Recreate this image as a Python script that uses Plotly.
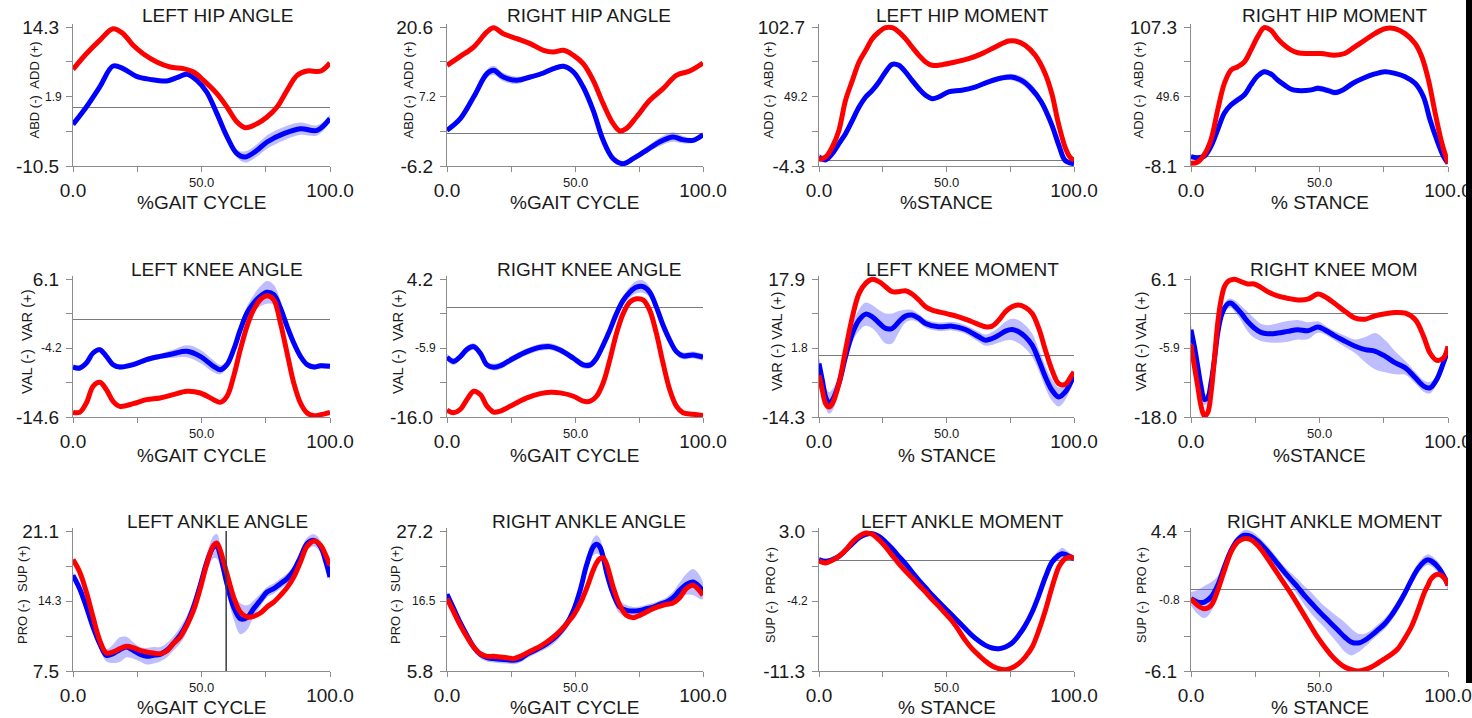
import plotly.graph_objects as go

W, H = 1472, 718

# ---------------- DATA ----------------
# 1 LEFT HIP ANGLE
LHA_x_red = [0, 5.2, 10.4, 15.6, 19.5, 23.4, 27.3, 32.6, 37.8, 43, 46.9, 50.8, 56, 59.9, 63.8, 67, 71.6, 75.5, 79.4, 83.3, 87.2, 91.1, 96.4, 100]
LHA_red = [6.75, 9.54, 11.92, 14.0, 13.11, 11.03, 9.54, 8.06, 7.16, 6.87, 6.27, 4.78, 2.41, 0.03, -2.65, -3.66, -2.95, -1.76, 0.03, 3.0, 5.68, 6.45, 6.45, 7.88]
LHA_x_blue = [0, 5.2, 10.4, 15.6, 19.5, 24.7, 30, 36.5, 40.4, 44.3, 48.2, 52, 56, 60, 63.8, 67, 71.6, 75.5, 82, 88.5, 95, 100]
LHA_blue = [-3.07, 0.03, 3.6, 7.34, 6.87, 5.5, 4.96, 4.67, 5.26, 5.86, 4.78, 2.7, -1.16, -5.33, -8.3, -8.89, -7.7, -6.22, -4.73, -3.84, -4.14, -2.05]
LHA_sd = [0.3, 0.3, 0.3, 0.3, 0.3, 0.3, 0.3, 0.3, 0.3, 0.3, 0.3, 0.3, 0.4, 0.5, 0.7, 1.0, 1.1, 1.2, 1.2, 1.1, 0.9, 0.7]
LHA_yticks = ["-10.5", "1.9", "14.3"]

# 2 RIGHT HIP ANGLE
RHA_x_red = [0, 5.2, 10.4, 15.6, 18.2, 22, 27.3, 32.5, 37.7, 41.6, 45.5, 49.4, 53.2, 57.1, 61, 64.9, 67.5, 70, 74, 79.2, 84.4, 89.6, 94.8, 100]
RHA_red = [13.21, 14.94, 16.74, 19.64, 20.47, 19.31, 18.35, 17.39, 16.1, 15.78, 16.1, 15.14, 13.53, 10.32, 5.82, 1.96, 0.55, 1.0, 3.25, 6.46, 8.71, 11.28, 12.12, 13.66]
RHA_x_blue = [0, 5.2, 10.4, 15.6, 18.2, 22, 27.3, 32.5, 37.7, 41.6, 45.5, 49.4, 53.2, 57.1, 61, 64.9, 68.8, 72.7, 77.9, 83, 88.3, 92, 96.1, 100]
RHA_blue = [0.68, 2.93, 7.1, 11.6, 12.25, 10.96, 10.32, 10.96, 11.73, 12.57, 13.02, 11.92, 9.03, 4.53, -1.25, -4.79, -5.75, -4.79, -3.18, -1.57, -0.61, -1.12, -1.25, -0.16]
RHA_sd = [0.4, 0.5, 0.6, 0.8, 0.9, 0.8, 0.7, 0.5, 0.5, 0.5, 0.5, 0.5, 0.5, 0.5, 0.5, 0.5, 0.5, 0.5, 0.6, 0.8, 0.9, 0.7, 0.5, 0.5]
RHA_yticks = ["-6.2", "7.2", "20.6"]

# 3 LEFT HIP MOMENT
LHM_x_red = [0, 2.6, 5.2, 7.8, 10.4, 13.1, 15.7, 18.3, 20.9, 23.5, 26.1, 28.7, 31.3, 33.9, 36.5, 39.2, 41.8, 44.4, 48.3, 53.5, 58.7, 63.9, 69.1, 74.3, 77, 80.9, 84.8, 88.7, 91.3, 93.9, 96.5, 98.4, 100]
LHM_red = [0.57, 2.6, 10.3, 23.1, 46.2, 61.6, 75.8, 84.7, 93.7, 98.9, 102.2, 102.2, 98.9, 93.7, 87.3, 80.9, 75.8, 73.2, 73.7, 75.8, 78.3, 82.2, 87.3, 91.9, 91.9, 88.6, 80.9, 66.8, 51.4, 28.3, 10.3, 2.6, 0.06]
LHM_x_blue = [0, 2.6, 5.2, 7.8, 10.4, 13.1, 15.7, 18.3, 20.9, 23.5, 26.1, 28.7, 31.3, 33.9, 36.5, 39.2, 41.8, 44.4, 46.9, 50.8, 56, 61.2, 66.4, 71.5, 75.4, 79.4, 83.3, 87.2, 91.1, 94.3, 96.5, 100]
LHM_blue = [2.6, 0.57, 5.2, 12.9, 20.6, 30.9, 41.1, 48.8, 53.9, 60.4, 68.1, 74, 73.2, 68.1, 61.6, 55.2, 50.1, 47.5, 48.8, 52.7, 54, 56.5, 60.4, 63.4, 64.2, 61.6, 55.2, 45, 28.3, 10.3, 0.06, -2.5]
LHM_sd = [2.5, 2.5, 2, 1.5, 1.5, 1.5, 1.5, 1.5, 1.5, 1.5, 1.5, 1.5, 1.5, 1.5, 1.5, 1.5, 1.5, 1.5, 1.5, 1.5, 1.5, 1.5, 1.5, 2, 2.5, 3, 3.5, 3, 2.5, 2, 1.5, 1.5]
LHM_yticks = ["-4.3", "49.2", "102.7"]

# 4 RIGHT HIP MOMENT
RHM_x_red = [0, 2.6, 5.2, 7.8, 10.4, 13, 15.6, 18.2, 20.8, 23.3, 25.9, 28.5, 31.1, 33.7, 36.3, 39, 41.6, 45.5, 50.7, 55.8, 59.8, 63.7, 67.6, 71.5, 75.4, 79.4, 83.3, 87.2, 89.8, 92.4, 95, 97.6, 100]
RHM_red = [-5.9, -4.8, 1.5, 13.9, 38.6, 60.6, 71.6, 74.3, 78.4, 88.1, 99.1, 106.8, 104.6, 97.7, 92.2, 88.1, 85.9, 85.3, 85.3, 83.9, 85.3, 90.8, 96.3, 101.8, 105.9, 105.9, 101.8, 93.6, 82.6, 63.3, 35.9, 11.1, -5.9]
RHM_x_blue = [0, 2.6, 5.2, 7.8, 10.4, 13, 15.6, 18.2, 20.8, 23.3, 25.9, 28.5, 31.1, 33.7, 36.3, 39, 41.6, 46.8, 49.4, 53.4, 56, 59.1, 63, 67, 71.5, 75.4, 79.4, 83.3, 87.2, 90.4, 93, 95.6, 98.2, 100]
RHM_blue = [-0.4, -1.2, 0.1, 8.4, 22.1, 35.9, 42.7, 46.8, 51, 59.2, 66.6, 70.2, 68.3, 63.3, 59.2, 55.6, 54.5, 55.1, 56.5, 54.5, 52.9, 55.1, 60.6, 64.7, 68.3, 70.2, 68.8, 66.1, 60.6, 49.6, 30.3, 13.9, 0.1, -5.9]
RHM_sd = [1.5, 1.5, 1.5, 2, 2.5, 3, 3, 3, 2.5, 2, 2.5, 2.5, 2, 1.5, 1.5, 1.5, 1.5, 2, 2.5, 2.5, 2.5, 1.5, 1.5, 1.5, 1.5, 1.5, 1.5, 1.5, 1.5, 1.5, 1.5, 1.5, 1.5, 1.5]
RHM_yticks = ["-8.1", "49.6", "107.3"]

# 5 LEFT KNEE ANGLE
LKA_x = [0, 2.6, 5.2, 7.8, 10.4, 13, 15.6, 18.2, 23.4, 28.6, 33.9, 39, 44.3, 49.5, 54.7, 57.3, 59.9, 62.5, 65.1, 67.7, 70.3, 72.9, 75.5, 78.1, 80.7, 83.3, 85.9, 88.5, 91.1, 93.8, 96.4, 100]
LKA_red = [-13.9, -13.9, -12.5, -10.0, -9.4, -10.5, -12.25, -13.0, -12.6, -12.0, -11.75, -11.25, -10.75, -11.0, -12.0, -12.4, -11.5, -8.5, -4.5, -1.0, 1.5, 3.0, 3.6, 3.0, -0.5, -5.0, -9.5, -12.5, -14.0, -14.4, -14.25, -13.9]
LKA_blue = [-7.1, -7.25, -6.5, -5.0, -4.5, -5.5, -6.75, -7.1, -6.75, -6.0, -5.5, -5.1, -4.75, -5.5, -7.0, -7.5, -6.75, -4.5, -1.5, 1.0, 2.5, 3.5, 4.1, 3.75, 1.75, -1.0, -3.5, -5.5, -6.75, -7.1, -6.9, -7.0]
LKA_sd = [0.4, 0.4, 0.4, 0.4, 0.4, 0.4, 0.4, 0.4, 0.4, 0.4, 0.4, 0.6, 0.9, 1.0, 0.9, 0.7, 0.5, 0.6, 0.8, 1.0, 1.2, 1.5, 1.7, 1.5, 1.2, 0.9, 0.7, 0.5, 0.4, 0.4, 0.4, 0.4]
LKA_yticks = ["-14.6", "-4.2", "6.1"]

# 6 RIGHT KNEE ANGLE
RKA_x = [0, 2.6, 5.2, 7.8, 10.4, 13, 15.6, 18.2, 20.8, 26, 31.2, 36.4, 40.3, 44.2, 49.4, 53.2, 56, 58.4, 61, 63.6, 66.2, 68.8, 71.4, 74, 76.6, 79.2, 81.8, 84.4, 87, 89.6, 92.2, 96.1, 100]
RKA_red = [-14.99, -15.37, -14.89, -13.44, -12.23, -12.7, -14.4, -15.28, -15.13, -14.16, -13.2, -12.57, -12.38, -12.47, -12.96, -13.68, -13.68, -12.96, -11.02, -7.64, -3.77, -0.87, 0.82, 1.3, 1.15, -0.39, -3.77, -8.12, -11.99, -14.4, -15.37, -15.6, -15.8]
RKA_blue = [-7.25, -7.88, -7.16, -6.1, -5.7, -6.67, -8.37, -8.7, -8.5, -7.4, -6.43, -5.8, -5.7, -6.2, -7.4, -8.37, -8.37, -7.4, -5.47, -3.29, -0.87, 1.06, 2.27, 3.0, 3.09, 2.27, 0.09, -2.57, -4.74, -6.43, -7.06, -6.92, -7.25]
RKA_sd = [0.5] * 20 + [0.6, 0.7, 0.8, 0.9, 0.9, 0.8, 0.6, 0.5, 0.5, 0.5, 0.5, 0.5, 0.5]
RKA_yticks = ["-16.0", "-5.9", "4.2"]

# 7 LEFT KNEE MOMENT
LKM_x_red = [0, 1.3, 2.6, 3.9, 5.2, 7.8, 10.4, 13.1, 15.7, 18.3, 20.9, 23.5, 26.1, 28.7, 31.3, 33.9, 36.5, 39.2, 41.8, 44.4, 49.6, 54.8, 60, 65.3, 67.9, 70.5, 73.1, 75.7, 78.3, 80.9, 83.6, 86.2, 88.8, 91.4, 94, 96.6, 98.7, 100]
LKM_red = [-4.56, -8.07, -11.19, -11.97, -11.19, -6.51, 1.29, 9.09, 14.55, 16.89, 17.82, 17.28, 16.11, 14.94, 14.94, 15.17, 14.39, 12.99, 11.43, 10.65, 9.87, 9.09, 7.92, 6.75, 6.9, 8.31, 10.26, 11.43, 11.82, 11.27, 9.87, 6.36, 1.29, -3.39, -6.51, -6.67, -4.95, -3.78]
LKM_x_blue = [0, 1.3, 2.6, 3.9, 5.2, 7.8, 10.4, 13.1, 15.7, 18.3, 20.9, 23.5, 26.1, 28.7, 31.3, 33.9, 36.5, 39.2, 41.8, 46.9, 52.2, 57.4, 62.6, 65.3, 67.9, 70.5, 73.1, 75.7, 78.3, 80.9, 83.6, 86.2, 88.8, 91.4, 94, 96.6, 100]
LKM_blue = [-1.83, -5.73, -9.63, -11.04, -10.41, -6.51, -0.27, 5.19, 8.31, 9.71, 9.09, 7.68, 6.36, 6.36, 7.92, 9.24, 9.48, 8.7, 7.53, 6.75, 6.9, 6.12, 4.41, 3.63, 4.02, 4.8, 5.73, 6.12, 5.58, 4.41, 2.46, -1.05, -4.95, -8.07, -9.63, -8.46, -4.56]
LKM_sd = [1.5, 2.0, 2.5, 2.5, 2.5, 2.0, 1.5, 2.0, 2.5, 2.7, 2.7, 3.0, 3.5, 3.5, 2.5, 1.5, 1.2, 1.0, 1.0, 1.0, 1.0, 1.0, 1.2, 1.3, 1.5, 1.8, 2.2, 2.5, 2.7, 2.7, 2.7, 2.5, 2.5, 2.5, 2.2, 1.8, 1.2]
LKM_yticks = ["-14.3", "1.8", "17.9"]

# 8 RIGHT KNEE MOM
RKM_x = [0, 1.3, 2.6, 3.9, 5.2, 6.5, 7.8, 9.1, 10.4, 11.7, 13, 14.3, 15.6, 16.9, 19.5, 22, 24.6, 27.2, 29.8, 33.7, 37.6, 41.5, 45.4, 49.4, 52, 55.8, 60, 63.9, 67.8, 71.7, 75.6, 79.5, 83.4, 87.3, 90.5, 93, 95.6, 98.2, 100]
RKM_red = [-5.36, -9.13, -12.6, -16.08, -17.82, -17.24, -13.77, -7.98, -1.6, 2.45, 4.77, 5.64, 5.93, 6.04, 5.64, 5.23, 5.23, 4.65, 3.9, 3.15, 2.74, 2.45, 2.57, 3.49, 3.03, 1.87, 0.42, -0.73, -0.91, -0.33, 0.02, 0.25, 0.13, -1.02, -3.92, -6.82, -8.09, -7.69, -5.65]
RKM_blue = [-2.76, -5.65, -9.13, -12.6, -14.93, -14.64, -12.03, -7.98, -3.34, -0.45, 1.0, 1.76, 1.87, 1.41, 0.13, -1.31, -2.47, -3.23, -3.46, -3.34, -3.05, -2.76, -2.94, -2.3, -2.76, -3.8, -4.79, -5.65, -6.24, -6.52, -7.4, -8.55, -9.42, -11.16, -12.6, -12.9, -11.45, -8.55, -6.24]
RKM_sd = [0.8, 1.0, 1.2, 1.2, 1.0, 0.8, 0.8, 0.8, 0.8, 0.8, 0.8, 0.8, 0.8, 1.0, 1.3, 1.7, 1.7, 1.5, 1.5, 1.7, 1.8, 1.7, 1.5, 1.0, 0.8, 0.8, 1.0, 1.2, 2.2, 3.2, 2.8, 2.0, 1.2, 1.0, 1.0, 1.0, 0.8, 0.8, 0.8]
RKM_yticks = ["-18.0", "-5.9", "6.1"]

# 9 LEFT ANKLE ANGLE
LAA_x = [0, 2.6, 5.2, 7.8, 10.4, 13, 15.6, 18.2, 20.8, 23.4, 26, 28.6, 31.3, 33.9, 36.5, 39, 41.7, 44.3, 46.9, 49.5, 52.1, 54.7, 56, 57.3, 59.9, 62.5, 65.1, 67.7, 70.3, 72.9, 75.5, 78.1, 80.7, 83.3, 85.9, 88.5, 91.1, 93.8, 96.4, 98.2, 100]
LAA_red = [18.32, 17.12, 15.17, 12.75, 10.48, 9.25, 9.35, 9.67, 9.9, 9.77, 9.51, 9.35, 9.25, 9.18, 9.44, 10.16, 10.8, 11.94, 13.39, 15.5, 17.93, 19.71, 19.93, 19.22, 16.96, 14.69, 13.23, 12.75, 12.81, 13.13, 13.72, 14.2, 14.85, 15.6, 16.63, 18.09, 19.61, 20.13, 19.71, 18.83, 17.77]
LAA_blue = [16.79, 15.5, 13.72, 11.77, 10.16, 9.02, 9.18, 9.57, 9.83, 9.51, 9.12, 8.93, 9.02, 9.12, 9.51, 10.16, 10.97, 12.1, 13.72, 15.82, 18.09, 19.55, 19.61, 18.74, 15.98, 13.72, 12.58, 12.68, 13.56, 14.37, 15.17, 15.5, 15.98, 16.47, 17.28, 18.57, 19.87, 20.19, 19.55, 18.25, 16.63]
LAA_sd = [0.3, 0.3, 0.3, 0.3, 0.4, 0.6, 0.9, 1.2, 1.0, 0.8, 0.7, 0.8, 0.8, 0.7, 0.7, 0.7, 0.8, 0.8, 0.8, 0.8, 0.9, 1.1, 1.2, 1.1, 1.0, 1.2, 1.5, 1.2, 0.8, 0.6, 0.5, 0.5, 0.5, 0.5, 0.5, 0.5, 0.6, 0.6, 0.6, 0.5, 0.4]
LAA_yticks = ["7.5", "14.3", "21.1"]
LAA_event = 59.6   # vertical event line (% gait cycle)

# 10 RIGHT ANKLE ANGLE
RAA_x = [0, 2.6, 5.2, 7.8, 10.4, 13, 15.6, 18.2, 20.8, 23.4, 26, 28.6, 31.2, 33.8, 36.4, 39, 41.6, 44.2, 46.8, 49.4, 52, 54.5, 57.1, 58.4, 59.7, 61, 62.3, 64.9, 67.5, 70.1, 72.7, 75.3, 77.9, 80.5, 83.1, 85.7, 88.3, 90.9, 93.5, 96.1, 98.7, 100]
RAA_red = [16.86, 14.82, 12.78, 11.0, 9.47, 8.45, 8.04, 8.04, 7.94, 7.84, 7.69, 8.04, 8.55, 9.06, 9.57, 10.23, 11.0, 11.91, 13.04, 14.31, 16.09, 18.39, 21.19, 22.3, 22.97, 23.12, 22.21, 18.64, 15.84, 14.31, 13.95, 14.31, 14.82, 15.33, 15.69, 15.99, 16.2, 17.01, 18.39, 18.9, 18.03, 17.37]
RAA_blue = [17.52, 15.33, 13.14, 11.25, 9.47, 8.35, 7.84, 7.69, 7.58, 7.53, 7.43, 7.69, 8.35, 8.86, 9.37, 9.98, 10.74, 11.76, 13.04, 15.07, 18.13, 21.95, 24.75, 25.16, 24.75, 23.23, 20.93, 17.62, 15.58, 15.07, 14.97, 15.07, 15.33, 15.58, 15.99, 16.35, 17.01, 18.13, 19.05, 19.4, 18.64, 18.03]
RAA_sd = [0.4, 0.4, 0.4, 0.5, 0.5, 0.6, 0.6, 0.6, 0.6, 0.6, 0.6, 0.6, 0.6, 0.6, 0.6, 0.7, 0.8, 0.8, 0.8, 0.8, 0.9, 1.1, 1.3, 1.4, 1.3, 1.2, 1.1, 1.0, 1.0, 0.8, 0.6, 0.6, 0.6, 0.6, 0.6, 0.7, 0.9, 1.2, 1.6, 2.0, 1.8, 1.3]
RAA_yticks = ["5.8", "16.5", "27.2"]

# 11 LEFT ANKLE MOMENT
LAM_x = [0, 2.6, 5.2, 7.8, 10.4, 13.1, 15.7, 18.3, 20.9, 23.5, 26.1, 28.7, 31.3, 33.9, 36.5, 39.2, 41.8, 44.4, 47, 49.6, 52.2, 54.8, 57.4, 60, 62.7, 65.3, 67.9, 70.5, 73.1, 75.7, 78.3, 80.9, 83.6, 86.2, 88.8, 91.4, 94, 95.3, 96.6, 98.7, 100]
LAM_red = [-0.06, -0.27, 0.0, 0.41, 1.03, 1.88, 2.46, 2.8, 2.66, 2.11, 1.37, 0.51, -0.34, -1.09, -1.77, -2.55, -3.23, -4.01, -4.7, -5.44, -6.19, -7.15, -8.17, -9.02, -9.7, -10.31, -10.79, -11.06, -11.16, -10.96, -10.55, -9.87, -8.85, -7.15, -5.1, -2.72, -0.68, -0.17, 0.17, 0.34, 0.17]
LAM_blue = [0.07, -0.1, 0.07, 0.41, 1.03, 1.71, 2.32, 2.66, 2.73, 2.46, 1.88, 1.2, 0.41, -0.34, -1.19, -2.04, -2.79, -3.57, -4.25, -4.93, -5.61, -6.3, -6.98, -7.66, -8.24, -8.68, -8.95, -9.02, -8.85, -8.44, -7.66, -6.64, -5.27, -3.57, -1.7, -0.17, 0.51, 0.68, 0.62, 0.34, 0.17]
LAM_sd = [0.25] * 35 + [0.35, 0.5, 0.6, 0.5, 0.35, 0.25]
LAM_yticks = ["-11.3", "-4.2", "3.0"]

# 12 RIGHT ANKLE MOMENT
RAM_x = [0, 2.6, 5.2, 7.8, 10.4, 13, 15.6, 18.2, 20.8, 23.3, 25.9, 28.5, 31.1, 33.7, 36.3, 38.9, 41.5, 44.1, 46.8, 49.4, 52, 54.6, 57.2, 59.8, 62.4, 65, 67.6, 70.2, 72.8, 75.4, 78, 80.5, 83.1, 85.7, 88.3, 90.9, 92.2, 93.5, 96.1, 98.7, 100]
RAM_red = [-0.68, -1.18, -1.43, -1.18, -0.05, 1.45, 2.83, 3.58, 3.83, 3.75, 3.33, 2.7, 1.95, 1.2, 0.45, -0.3, -1.1, -1.93, -2.8, -3.6, -4.3, -4.93, -5.43, -5.8, -6.0, -6.1, -6.0, -5.8, -5.5, -5.18, -4.85, -4.43, -3.68, -2.8, -1.55, -0.18, 0.33, 0.83, 1.15, 0.83, 0.33]
RAM_blue = [-0.68, -0.93, -0.93, -0.55, 0.33, 1.7, 2.95, 3.75, 4.08, 4.0, 3.65, 3.15, 2.58, 1.95, 1.33, 0.75, 0.2, -0.43, -1.0, -1.55, -2.05, -2.55, -3.05, -3.55, -3.93, -4.0, -3.8, -3.43, -3.0, -2.55, -1.93, -1.18, -0.3, 0.7, 1.58, 2.13, 2.25, 2.15, 1.7, 0.9, 0.33]
RAM_sd = [0.5, 0.9, 1.2, 1.1, 0.7, 0.4, 0.3, 0.3, 0.4, 0.4, 0.4, 0.4, 0.4, 0.4, 0.4, 0.5, 0.6, 0.7, 0.8, 0.8, 0.8, 0.9, 1.0, 1.1, 1.0, 0.7, 0.5, 0.4, 0.4, 0.4, 0.4, 0.4, 0.4, 0.4, 0.4, 0.4, 0.4, 0.4, 0.4, 0.4, 0.4]
RAM_yticks = ["-6.1", "-0.8", "4.4"]

X_TICKS = [0, 100]
X_LABELS = ["0.0", "100.0"]
X_MID = 50
X_MID_LABEL = "50.0"
X_MINOR = [25, 50, 75]

NB = "\u00a0"
PANELS = [
    dict(t="LEFT HIP ANGLE", yt="ABD (-)" + NB + " ADD (+)", xt="%GAIT CYCLE", xr=LHA_x_red, r=LHA_red, xb=LHA_x_blue, b=LHA_blue, sd=LHA_sd, yk=LHA_yticks),
    dict(t="RIGHT HIP ANGLE", yt="ABD (-)" + NB + " ADD (+)", xt="%GAIT CYCLE", xr=RHA_x_red, r=RHA_red, xb=RHA_x_blue, b=RHA_blue, sd=RHA_sd, yk=RHA_yticks),
    dict(t="LEFT HIP MOMENT", yt="ADD (-)" + NB + " ABD (+)", xt="%STANCE", xr=LHM_x_red, r=LHM_red, xb=LHM_x_blue, b=LHM_blue, sd=LHM_sd, yk=LHM_yticks),
    dict(t="RIGHT HIP MOMENT", yt="ADD (-)" + NB + " ABD (+)", xt="% STANCE", xr=RHM_x_red, r=RHM_red, xb=RHM_x_blue, b=RHM_blue, sd=RHM_sd, yk=RHM_yticks),
    dict(t="LEFT KNEE ANGLE", yt="VAL (-)" + NB + " VAR (+)", xt="%GAIT CYCLE", xr=LKA_x, r=LKA_red, xb=LKA_x, b=LKA_blue, sd=LKA_sd, yk=LKA_yticks),
    dict(t="RIGHT KNEE ANGLE", yt="VAL (-)" + NB + " VAR (+)", xt="%GAIT CYCLE", xr=RKA_x, r=RKA_red, xb=RKA_x, b=RKA_blue, sd=RKA_sd, yk=RKA_yticks),
    dict(t="LEFT KNEE MOMENT", yt="VAR (-) VAL (+)", xt="% STANCE", xr=LKM_x_red, r=LKM_red, xb=LKM_x_blue, b=LKM_blue, sd=LKM_sd, yk=LKM_yticks),
    dict(t="RIGHT KNEE MOM", yt="VAR (-) VAL (+)", xt="%STANCE", xr=RKM_x, r=RKM_red, xb=RKM_x, b=RKM_blue, sd=RKM_sd, yk=RKM_yticks),
    dict(t="LEFT ANKLE ANGLE", yt="PRO (-)" + NB + " SUP (+)", xt="%GAIT CYCLE", xr=LAA_x, r=LAA_red, xb=LAA_x, b=LAA_blue, sd=LAA_sd, yk=LAA_yticks),
    dict(t="RIGHT ANKLE ANGLE", yt="PRO (-)" + NB + " SUP (+)", xt="%GAIT CYCLE", xr=RAA_x, r=RAA_red, xb=RAA_x, b=RAA_blue, sd=RAA_sd, yk=RAA_yticks),
    dict(t="LEFT ANKLE MOMENT", yt="SUP (-)" + NB + " PRO (+)", xt="% STANCE", xr=LAM_x, r=LAM_red, xb=LAM_x, b=LAM_blue, sd=LAM_sd, yk=LAM_yticks),
    dict(t="RIGHT ANKLE MOMENT", yt="SUP (-)" + NB + " PRO (+)", xt="% STANCE", xr=RAM_x, r=RAM_red, xb=RAM_x, b=RAM_blue, sd=RAM_sd, yk=RAM_yticks),
]

# ---------------- LAYOUT (pixel geometry of the picture) ----------------
def px(xp):
    return xp / W


def py(yp):
    return 1 - yp / H


COL_X = [(73, 330), (447, 703), (819, 1074), (1191, 1448)]
ROW_Y = [(27, 166), (279, 417), (531, 671)]
TOP_PAD = 3   # px of headroom above the top tick so thick lines are not clipped
TITLE_XC = [217, 589, 962, 1334]
TITLE_YC = [15.5, 269, 521.5]
XTITLE_YC = [203, 455, 707]
YTITLE_OFF = [39, 39, 51, 53, 46, 49, 42, 50, 51, 52, 48, 49]
YTITLE_SIZE = [13, 13, 13, 13, 14.7, 14.7, 14.5, 14.5, 13, 13, 12.7, 12.7]

FONT = "Liberation Sans, Arial, sans-serif"
TXT = "#1a1a1a"
AX = "#8c8c8c"
RED = "#ff0000"
BLUE = "#0000ff"
BAND = "rgba(90,90,255,0.40)"

fig = go.Figure()
layout = dict(
    width=W, height=H, margin=dict(l=0, r=0, t=0, b=0, pad=0),
    paper_bgcolor="white", plot_bgcolor="white", showlegend=False,
    font=dict(family=FONT, color=TXT), template="none",
)
annotations = []
shapes = []

for i, p in enumerate(PANELS):
    k = i + 1
    row, col = divmod(i, 4)
    x0, x1 = COL_X[col]
    y0, y1 = ROW_Y[row]
    xs = "x" if k == 1 else f"x{k}"
    ys = "y" if k == 1 else f"y{k}"

    lo, mid, hi = [float(v) for v in p["yk"]]
    step = (hi - lo) / 4.0
    top = hi + (hi - lo) * TOP_PAD / (y1 - y0)

    layout["xaxis" if k == 1 else f"xaxis{k}"] = dict(
        domain=[px(x0), px(x1)], range=[0, 100], anchor=ys,
        tickmode="array", tickvals=X_TICKS, ticktext=X_LABELS,
        ticks="outside", ticklen=5, tickwidth=1, tickcolor=AX,
        minor=dict(tickmode="array", tickvals=X_MINOR, ticks="outside", ticklen=5,
                   tickwidth=1, tickcolor=AX, showgrid=False),
        showline=True, linecolor=AX, linewidth=1,
        showgrid=False, zeroline=False, fixedrange=True,
        tickfont=dict(size=19, color=TXT, family=FONT), ticklabelstandoff=2,
    )
    layout["yaxis" if k == 1 else f"yaxis{k}"] = dict(
        domain=[py(y1), py(y0 - TOP_PAD)], range=[lo, top], anchor=xs,
        tickmode="array", tickvals=[lo, hi], ticktext=[p["yk"][0], p["yk"][2]],
        ticks="outside", ticklen=6, tickwidth=1, tickcolor=AX,
        minor=dict(tickmode="array", tickvals=[lo + step, lo + 2 * step, lo + 3 * step],
                   ticks="outside", ticklen=6, tickwidth=1, tickcolor=AX, showgrid=False),
        showline=True, linecolor=AX, linewidth=1,
        showgrid=False, zeroline=True, zerolinecolor="#7a7a7a", zerolinewidth=1,
        tickfont=dict(size=19, color=TXT, family=FONT), ticklabelstandoff=3,
        fixedrange=True,
    )

    up = [b + s for b, s in zip(p["b"], p["sd"])]
    dn = [b - s for b, s in zip(p["b"], p["sd"])]
    fig.add_trace(go.Scatter(x=p["xb"], y=up, xaxis=xs, yaxis=ys, mode="lines",
                             line=dict(width=0, shape="spline", color=BAND), hoverinfo="skip"))
    fig.add_trace(go.Scatter(x=p["xb"], y=dn, xaxis=xs, yaxis=ys, mode="lines",
                             line=dict(width=0, shape="spline", color=BAND), fill="tonexty",
                             fillcolor=BAND, hoverinfo="skip"))
    fig.add_trace(go.Scatter(x=p["xb"], y=p["b"], xaxis=xs, yaxis=ys, mode="lines",
                             line=dict(width=5, shape="spline", color=BLUE)))
    fig.add_trace(go.Scatter(x=p["xr"], y=p["r"], xaxis=xs, yaxis=ys, mode="lines",
                             line=dict(width=5, shape="spline", color=RED)))

    # middle tick labels (smaller type in the reference)
    annotations.append(dict(text=X_MID_LABEL, xref=xs, yref=f"{ys} domain", x=X_MID,
                            y=0, yshift=-16, xanchor="center", yanchor="middle",
                            showarrow=False, font=dict(size=13, color=TXT, family=FONT)))
    annotations.append(dict(text=p["yk"][1], xref=f"{xs} domain", yref=ys, x=0,
                            y=mid, xshift=-9, xanchor="right", yanchor="middle",
                            showarrow=False, font=dict(size=12, color=TXT, family=FONT)))
    # panel title, x title, y title
    annotations.append(dict(text=p["t"], xref="paper", yref="paper",
                            x=px(TITLE_XC[col]), y=py(TITLE_YC[row]),
                            xanchor="center", yanchor="middle", showarrow=False,
                            font=dict(size=19, color=TXT, family=FONT)))
    annotations.append(dict(text=p["xt"], xref="paper", yref="paper",
                            x=px((x0 + x1) / 2), y=py(XTITLE_YC[row]),
                            xanchor="center", yanchor="middle", showarrow=False,
                            font=dict(size=19, color=TXT, family=FONT)))
    annotations.append(dict(text=p["yt"], xref="paper", yref="paper",
                            x=px(x0 - YTITLE_OFF[i]), y=py((y0 + y1) / 2 - 6),
                            xanchor="center", yanchor="middle", showarrow=False, textangle=-90,
                            font=dict(size=YTITLE_SIZE[i], color=TXT, family=FONT)))

# event line in LEFT ANKLE ANGLE
shapes.append(dict(type="line", xref="x9", yref="paper", x0=LAA_event, x1=LAA_event,
                   y0=py(ROW_Y[2][1]), y1=py(ROW_Y[2][0]), line=dict(color="#3c3c3c", width=1.5)))
# dark strip on the right edge of the picture
shapes.append(dict(type="rect", xref="paper", yref="paper", x0=px(1466), x1=1.0,
                   y0=py(683), y1=1.0, fillcolor="black", line=dict(width=0), layer="above"))

layout["annotations"] = annotations
layout["shapes"] = shapes
fig.update_layout(**layout)
fig.write_html("out.html", config={"displayModeBar": False},
               post_script="document.body.style.margin='0';document.body.style.overflow='hidden';")
